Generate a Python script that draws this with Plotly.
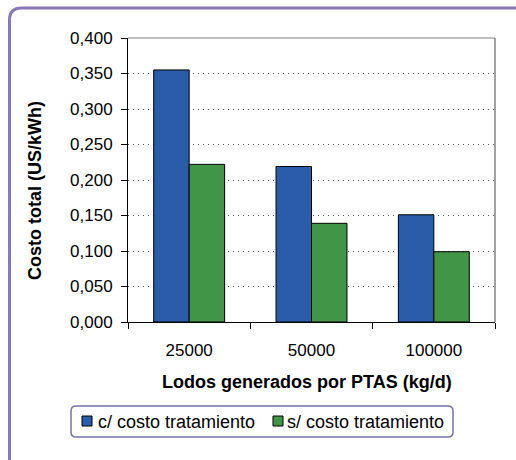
import plotly.graph_objects as go

# data
categories = ["25000", "50000", "100000"]
series_names = ["c/ costo tratamiento", "s/ costo tratamiento"]
con_tratamiento = [0.355, 0.219, 0.151]
sin_tratamiento = [0.222, 0.139, 0.099]
colors = ["#2b5ca9", "#419547"]

FONT = "Liberation Sans, Arial, sans-serif"
W, H = 516, 460
L, R, T, B = 128, 21, 38, 138


def px(x):
    # pixel x -> paper x
    return (x - L) / (W - L - R)


def py(y):
    # pixel y -> paper y
    return (H - B - y) / (H - T - B)


def rounded_rect(x0, y0, x1, y1, r):
    return (f"M {px(x0 + r)},{py(y0)} L {px(x1 - r)},{py(y0)} "
            f"Q {px(x1)},{py(y0)} {px(x1)},{py(y0 + r)} "
            f"L {px(x1)},{py(y1 - r)} Q {px(x1)},{py(y1)} {px(x1 - r)},{py(y1)} "
            f"L {px(x0 + r)},{py(y1)} Q {px(x0)},{py(y1)} {px(x0)},{py(y1 - r)} "
            f"L {px(x0)},{py(y0 + r)} Q {px(x0)},{py(y0)} {px(x0 + r)},{py(y0)} Z")


fig = go.Figure()
for name, vals, col in zip(series_names, [con_tratamiento, sin_tratamiento], colors):
    fig.add_trace(go.Bar(x=categories, y=vals, name=name,
                         marker=dict(color=col, line=dict(color="black", width=1))))

shapes = []
# outer frame (runs off the right and bottom edges)
shapes.append(dict(type="path", xref="paper", yref="paper", layer="below",
                   path=rounded_rect(9.5, 8, 560, 520, 12),
                   line=dict(color="#8878b8", width=3)))
# top and right border of plot area
shapes.append(dict(type="line", xref="paper", yref="paper", x0=0, x1=1, y0=1, y1=1,
                   line=dict(color="#808080", width=1)))
shapes.append(dict(type="line", xref="paper", yref="paper", x0=1, x1=1, y0=0, y1=1,
                   line=dict(color="#808080", width=1.5)))
# legend box
shapes.append(dict(type="path", xref="paper", yref="paper",
                   path=rounded_rect(71, 406, 453, 437, 5),
                   line=dict(color="#7474a8", width=1.5)))

annotations = []
legend_pos = [(82, 96), (273, 285)]
for (sx, tx), name, col in zip(legend_pos, series_names, colors):
    shapes.append(dict(type="rect", xref="paper", yref="paper",
                       x0=px(sx), x1=px(sx + 10), y0=py(416), y1=py(426),
                       fillcolor=col, line=dict(color="black", width=1)))
    annotations.append(dict(xref="paper", yref="paper", x=px(tx), y=py(422),
                            xanchor="left", yanchor="middle", showarrow=False,
                            text=name, font=dict(family=FONT, size=18, color="black")))

annotations.append(dict(xref="paper", yref="paper", x=px(307), y=py(382),
                        xanchor="center", yanchor="middle", showarrow=False,
                        text="<b>Lodos generados por PTAS (kg/d)</b>",
                        font=dict(family=FONT, size=18, color="black")))
annotations.append(dict(xref="paper", yref="paper", x=px(35), y=py(190),
                        xanchor="center", yanchor="middle", showarrow=False, textangle=-90,
                        text="<b>Costo total (US/kWh)</b>",
                        font=dict(family=FONT, size=18, color="black")))

fig.update_layout(
    width=W, height=H,
    margin=dict(l=L, r=R, t=T, b=B),
    paper_bgcolor="white", plot_bgcolor="white",
    barmode="group", bargap=0.42, bargroupgap=0,
    showlegend=False,
    separators=",.",
    font=dict(family=FONT, size=17, color="black"),
    shapes=shapes, annotations=annotations,
)
fig.update_xaxes(type="category", tickson="boundaries", ticks="outside", ticklen=6,
                 tickcolor="black", showline=True, linecolor="black", linewidth=1,
                 showgrid=False, ticklabelstandoff=13, automargin=False,
                 tickfont=dict(family=FONT, size=17))
fig.update_yaxes(range=[0, 0.4], dtick=0.05, tickformat=".3f", ticks="outside", ticklen=6,
                 tickcolor="black", showline=True, linecolor="black", linewidth=1,
                 showgrid=True, gridcolor="#555555", gridwidth=1, griddash="1px,4px",
                 zeroline=False, ticklabelstandoff=5, automargin=False,
                 tickfont=dict(family=FONT, size=17))

# drop the default 8px body margin so the figure sits at the page origin
fig.write_html("out.html", config={"displayModeBar": False},
               post_script="document.body.style.margin='0';")
